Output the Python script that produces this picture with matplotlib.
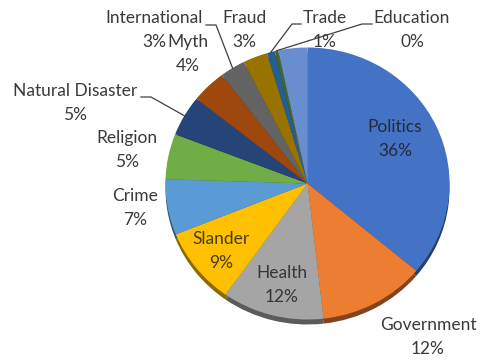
import numpy as np
import matplotlib
matplotlib.use('Agg')
import matplotlib.pyplot as plt
from matplotlib.colors import to_rgb

# Share of items per topic (percent)
topics = ['Politics', 'Government', 'Health', 'Slander', 'Crime', 'Religion',
          'Natural Disaster', 'Myth', 'International', 'Fraud', 'Trade',
          'Education', 'Other']
shares = [36.1, 12.1, 11.6, 9.1, 6.6, 5.4, 4.8, 4.0, 2.9, 2.8, 0.9, 0.4, 3.3]
colors = ['#4472C4', '#ED7D31', '#A5A5A5', '#FFC000', '#5B9BD5', '#70AD47',
          '#264478', '#9E480E', '#636363', '#997300', '#255E91', '#43682B',
          '#698ED0']

# Pie geometry in pixels (figure is 480x360, y measured from the top)
W, H = 480, 360
CX, CY = 307.5, 183.5
RX, RY = 142.0, 136.0
DEPTH = 5  # thickness of the darker rim under the pie
LINE_GAP = 24  # distance between name line and percent line

# label block centres (pixels), only topics that get a label
label_pos = {
    'Politics': (395, 139),
    'Government': (428, 337),
    'Health': (282, 285),
    'Slander': (221, 251),
    'Crime': (135, 208),
    'Religion': (127, 150),
    'Natural Disaster': (75, 103),
    'Myth': (188, 54),
    'International': (154, 30),
    'Fraud': (244, 30),
    'Trade': (325, 30),
    'Education': (412, 30),
}
inside = {'Politics', 'Health', 'Slander'}
# leader lines: start at the label, short horizontal run, then to the rim
leaders = {
    'Natural Disaster': [(141, 97), (151, 97)],
    'International': [(206, 25), (216, 25)],
    'Trade': [(301, 24), (292, 24)],
    'Education': [(372, 24), (362, 24)],
}


def px(x, y):
    """pixel position -> data coords of the unit pie"""
    return (x - CX) / RX, (CY - y) / RY


fig = plt.figure(figsize=(4.8, 3.6), dpi=100)
ax = fig.add_axes([0, 0, 1, 1])

# darker copy slightly below gives the 3D edge
dark = [tuple(c * 0.55 for c in to_rgb(col)) for col in colors]
ax.pie(shares, colors=dark, startangle=90, counterclock=False,
       center=(0, -DEPTH / RY), radius=1.0, wedgeprops=dict(linewidth=0))
wedges, _ = ax.pie(shares, colors=colors, startangle=90, counterclock=False,
                   center=(0, 0), radius=1.0, wedgeprops=dict(linewidth=0))

ax.set_xlim(-CX / RX, (W - CX) / RX)
ax.set_ylim(-(H - CY) / RY, CY / RY)
ax.set_aspect('auto')
ax.axis('off')

font = ['Lato', 'DejaVu Sans']
for name, share, w in zip(topics, shares, wedges):
    if name not in label_pos:
        continue
    cx, cy = label_pos[name]
    if name in inside:
        style = dict(color='#1a1a1a', alpha=0.8)
    else:
        style = dict(color='#3a3a3a')
    for line, y in [(name, cy - LINE_GAP / 2), (f"{share:.0f}%", cy + LINE_GAP / 2)]:
        ax.text(*px(cx, y), line, ha='center', va='center', fontsize=12.5,
                family=font, zorder=5, **style)
    if name in leaders:
        mid = np.deg2rad((w.theta1 + w.theta2) / 2)
        pts = [px(*p) for p in leaders[name]] + [(np.cos(mid), np.sin(mid))]
        xs, ys = zip(*pts)
        ax.plot(xs, ys, color='#404040', lw=0.9, zorder=4)

fig.savefig('out.png', dpi=100)
